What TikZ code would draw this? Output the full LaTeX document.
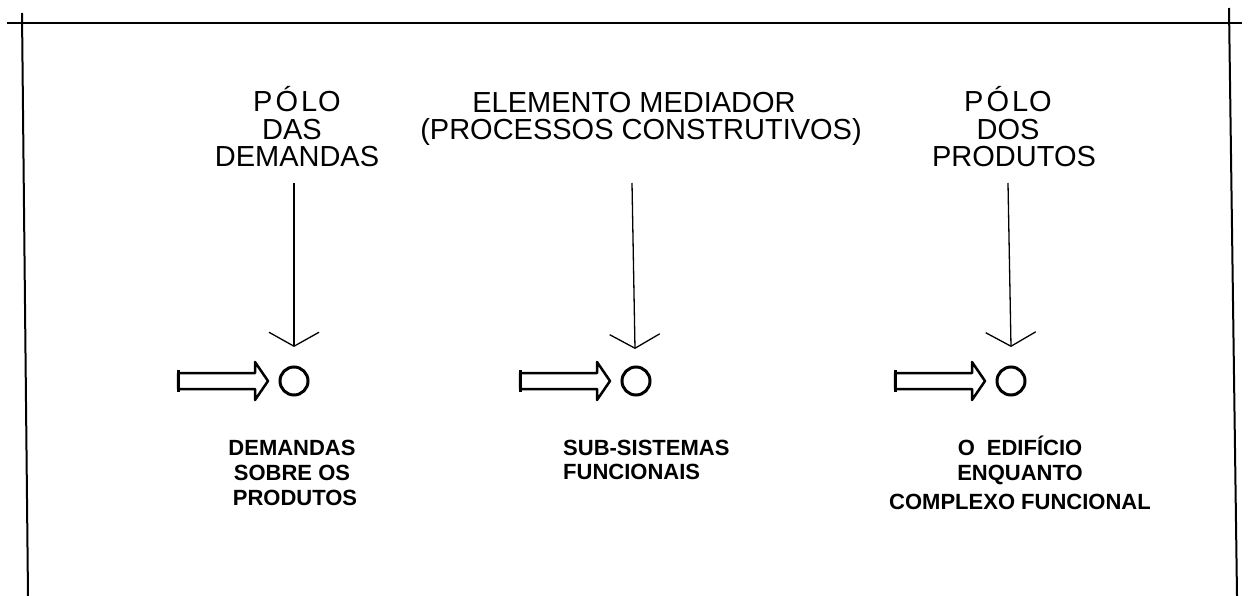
\documentclass[tikz,border=0pt]{standalone}
\usepackage{fontspec}
\setmainfont{Liberation Sans}
\usetikzlibrary{arrows.meta}
\begin{document}
\begin{tikzpicture}[x=1pt,y=-1pt,
  ttl/.style={anchor=base,inner sep=0pt,font=\fontsize{29}{34}\selectfont},
  lbl/.style={anchor=base,inner sep=0pt,font=\fontsize{22}{26}\selectfont\bfseries},
  bordline/.style={line width=2pt},
  vline/.style={line width=1.3pt,-{Straight Barb[length=14pt,width=50pt,line width=1.3pt]}},
  hollow/.style={line width=2.5pt,line join=round},
  pole/.style={circle,draw,line width=3pt,minimum size=28pt,inner sep=0pt}]
\useasboundingbox (0,0) rectangle (1251,596);
% frame
\coordinate (fl) at (7,23); \coordinate (fr) at (1242,23);
\coordinate (lt) at (22,13); \coordinate (lb) at (28,596);
\coordinate (rt) at (1229,8); \coordinate (rb) at (1237,596);
\draw[bordline] (fl) -- (fr);
\draw[bordline] (lt) -- (lb);
\draw[bordline] (rt) -- (rb);
% top texts
\node[ttl] (t1a) at (297,112) {P\kern3ptÓ\kern3ptL\kern1ptO};
\node[ttl] (t1b) at (292,140) {DAS};
\node[ttl] (t1c) at (297,167) {DEMANDAS};
\node[ttl] (t2a) at (634,113) {ELEMENTO MEDIADOR};
\node[ttl] (t2b) at (641,140) {(PROCESSOS CONSTRUTIVOS)};
\node[ttl] (t3a) at (1008,112) {P\kern3ptÓ\kern3ptL\kern1ptO};
\node[ttl] (t3b) at (1008,140) {DOS};
\node[ttl] (t3c) at (1014,167) {PRODUTOS};
% circles
\node[pole] (c1) at (294,381) {};
\node[pole] (c2) at (636,381) {};
\node[pole] (c3) at (1011,381) {};
% vertical arrows
\coordinate (v1s) at (294,183); \coordinate (v1e) at (294,347);
\coordinate (v2s) at (632,183); \coordinate (v2e) at (635,349);
\coordinate (v3s) at (1008,183); \coordinate (v3e) at (1011,347);
\draw[vline] (v1s) -- (v1e);
\draw[vline] (v2s) -- (v2e);
\draw[vline] (v3s) -- (v3e);
% hollow arrows
\foreach \cx in {294,636,1011}{
  \draw[hollow] (\cx-116,373) -- (\cx-39,373) -- (\cx-39,362) -- (\cx-26,381)
     -- (\cx-39,400) -- (\cx-39,389) -- (\cx-116,389) -- cycle;
  \draw[line width=3pt] (\cx-116,370) -- (\cx-116,392);
}
% bottom labels
\node[lbl] (b1a) at (292,455) {DEMANDAS};
\node[lbl] (b1b) at (292,480) {SOBRE OS};
\node[lbl] (b1c) at (295,505) {PRODUTOS};
\node[lbl,anchor=base west] (b2a) at (563,455) {SUB-SISTEMAS};
\node[lbl,anchor=base west] (b2b) at (563,479) {FUNCIONAIS};
\node[lbl] (b3a) at (1020,455) {O\hspace{12pt}EDIFÍCIO};
\node[lbl] (b3b) at (1020,480) {ENQUANTO};
\node[lbl] (b3c) at (1020,509) {COMPLEXO FUNCIONAL};
\end{tikzpicture}
\end{document}
